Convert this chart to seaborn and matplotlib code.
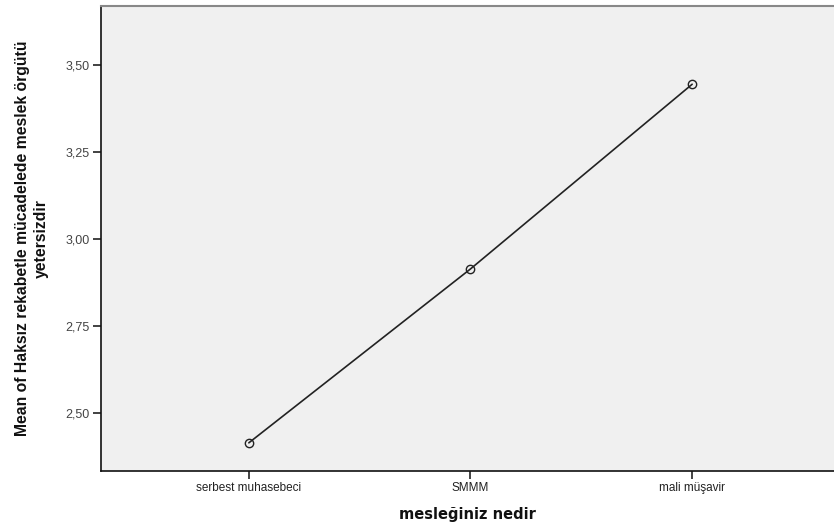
import pandas as pd
import matplotlib.pyplot as plt
import seaborn as sns

categories = ["serbest muhasebeci", "SMMM", "mali müşavir"]
means = [2.414, 2.914, 3.445]
y_ticks = [2.50, 2.75, 3.00, 3.25, 3.50]
y_tick_labels = ["2,50", "2,75", "3,00", "3,25", "3,50"]

sns.set_theme(style="ticks")
plt.rcParams["font.family"] = ["Liberation Sans", "DejaVu Sans"]

df = pd.DataFrame({"meslek": categories, "mean": means})
df["pos"] = range(len(categories))

fig = plt.figure(figsize=(8.34, 5.22), dpi=100)
ax = fig.add_axes([0.1211, 0.0977, 0.8789, 0.8908])
ax.set_facecolor("#F0F0F0")

sns.lineplot(
    data=df, x="pos", y="mean", ax=ax,
    color="#222222", linewidth=1.2,
    marker="o", markersize=6, markerfacecolor="none",
    markeredgecolor="#222222", markeredgewidth=1.0,
)

ax.set_xlim(-0.667, 2.64)
ax.set_ylim(2.333, 3.67)
ax.set_xticks(df["pos"])
ax.set_xticklabels(categories, fontsize=8.5, color="#222222")
ax.set_yticks(y_ticks)
ax.set_yticklabels(y_tick_labels, fontsize=9, color="#444444")
ax.tick_params(axis="both", direction="out", length=6, width=1.2, color="#222222",
               bottom=True, left=True, pad=2)

for side in ["left", "bottom"]:
    ax.spines[side].set_color("#111111")
    ax.spines[side].set_linewidth(1.2)
ax.spines["top"].set_visible(True)
ax.spines["top"].set_color("#888888")
ax.spines["top"].set_linewidth(1.5)
ax.spines["right"].set_visible(False)

ax.set_xlabel("mesleğiniz nedir", fontsize=10.5, fontweight="bold",
              family=["DejaVu Sans"], color="#111111", labelpad=9)
ax.set_ylabel("Mean of Haksız rekabetle mücadelede meslek örgütü\nyetersizdir",
              fontsize=11.3, fontweight="bold", color="#111111",
              family=["Liberation Sans Narrow", "Liberation Sans"],
              linespacing=1.35, labelpad=12)

fig.savefig("out.png", dpi=100)
plt.close(fig)
